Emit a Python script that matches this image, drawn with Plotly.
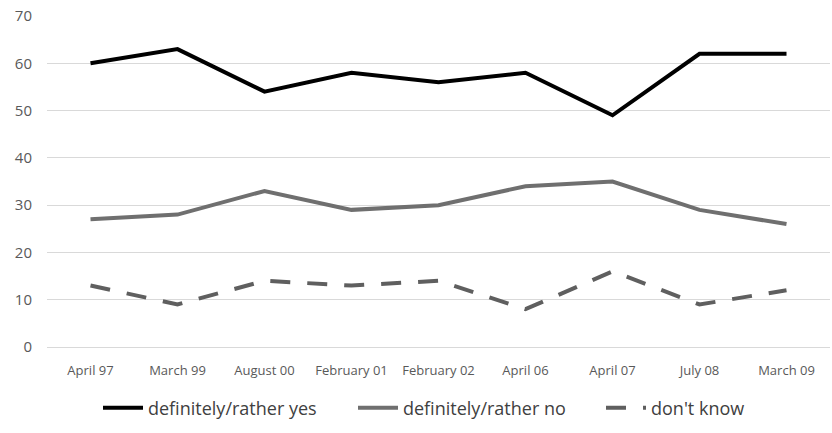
import plotly.graph_objects as go

categories = ["April 97", "March 99", "August 00", "February 01", "February 02",
              "April 06", "April 07", "July 08", "March 09"]
yes_vals = [60, 63, 54, 58, 56, 58, 49, 62, 62]
no_vals = [27, 28, 33, 29, 30, 34, 35, 29, 26]
dk_vals = [13, 9, 14, 13, 14, 8, 16, 9, 12]

fig = go.Figure()
fig.add_trace(go.Scatter(x=categories, y=yes_vals, mode="lines",
                         name="definitely/rather yes", legend="legend",
                         line=dict(color="#000000", width=4)))
fig.add_trace(go.Scatter(x=categories, y=no_vals, mode="lines",
                         name="definitely/rather no", legend="legend2",
                         line=dict(color="#6f6f6f", width=4)))
fig.add_trace(go.Scatter(x=categories, y=dk_vals, mode="lines",
                         name="don't know", legend="legend3",
                         line=dict(color="#5f5f5f", width=4, dash="20px,17px")))

leg_common = dict(orientation="h", xref="container", yref="container",
                  xanchor="left", yanchor="middle", y=25 / 433,
                  font=dict(size=18, color="#404040"), itemwidth=40,
                  bgcolor="rgba(0,0,0,0)")

fig.update_layout(
    width=832, height=433,
    margin=dict(l=47, r=2, t=16, b=86),
    paper_bgcolor="white", plot_bgcolor="white",
    font=dict(family="Open Sans, Liberation Sans, sans-serif", color="#595959"),
    showlegend=True,
    legend=dict(x=98 / 832, **leg_common),
    legend2=dict(x=353 / 832, **leg_common),
    legend3=dict(x=601 / 832, **leg_common),
    xaxis=dict(showgrid=False, showline=False, ticks="",
               tickfont=dict(size=13, color="#595959"),
               ticklabelstandoff=14,
               range=[-0.5, 8.5]),
    yaxis=dict(range=[0, 70], dtick=10, gridcolor="#d9d9d9", gridwidth=1,
               zeroline=True, zerolinecolor="#d9d9d9", zerolinewidth=1,
               showline=False, ticks="", ticklabelstandoff=14,
               tickfont=dict(size=15, color="#595959")),
)

fig.write_html("out.html")
